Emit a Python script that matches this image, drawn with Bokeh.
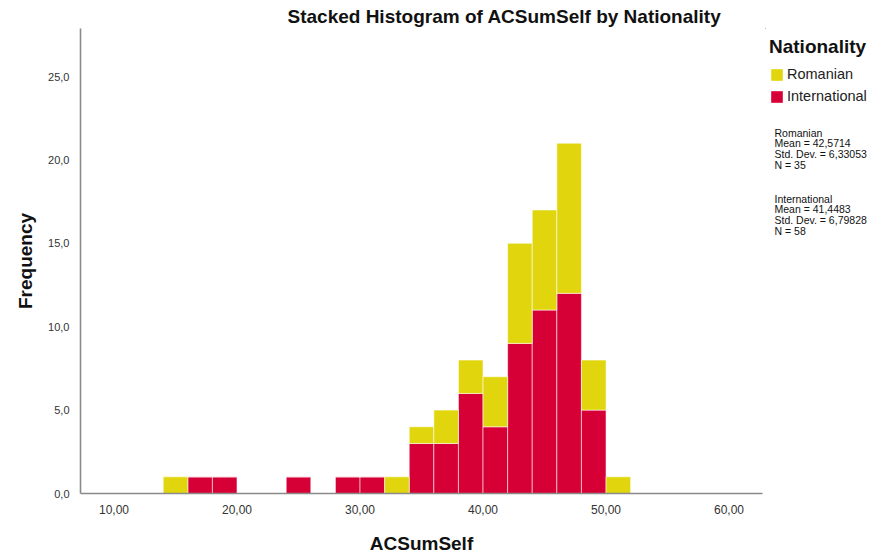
from bokeh.plotting import figure
from bokeh.models import ColumnDataSource, Range1d, Label, Legend, LegendItem, FixedTicker
from bokeh.layouts import row
from bokeh.embed import file_html
from bokeh.resources import INLINE

# ---- data ----
bin_starts = [14, 16, 18, 20, 22, 24, 26, 28, 30, 32, 34, 36, 38, 40, 42, 44, 46, 48, 50]
international = [0, 1, 1, 0, 0, 1, 0, 1, 1, 0, 3, 3, 6, 4, 9, 11, 12, 5, 0]
romanian = [1, 0, 0, 0, 0, 0, 0, 0, 0, 1, 1, 2, 2, 3, 6, 6, 9, 3, 1]
bin_width = 2
x_ticks = [10, 20, 30, 40, 50, 60]
y_ticks = [0, 5, 10, 15, 20, 25]
series_names = ["Romanian", "International"]
stats_romanian = ["Romanian", "Mean = 42,5714", "Std. Dev. = 6,33053", "N = 35"]
stats_international = ["International", "Mean = 41,4483", "Std. Dev. = 6,79828", "N = 58"]

YELLOW = "#E1D60E"
RED = "#D70036"
FONT = "Liberation Sans"

mids = [s + bin_width / 2 for s in bin_starts]
source = ColumnDataSource(dict(mid=mids, International=international, Romanian=romanian))

H = 559
W1 = 765
W2 = 891 - W1
FRAME_TOP, FRAME_BOTTOM = 28, 493

p = figure(width=W1, height=H, output_backend="svg", toolbar_location=None,
           x_range=Range1d(7.276, 62.72), y_range=Range1d(0, 27.88),
           min_border_left=80, min_border_top=FRAME_TOP, min_border_right=W1 - 762,
           min_border_bottom=H - FRAME_BOTTOM)
p.outline_line_color = None
p.grid.visible = False
p.background_fill_color = "white"
p.border_fill_color = "white"

rs = p.vbar_stack(["International", "Romanian"], x="mid", width=bin_width, source=source,
                  fill_color=[RED, YELLOW], line_color="white", line_alpha=0.55, line_width=1)

for ax in (p.xaxis[0], p.yaxis[0]):
    ax.axis_line_color = "#8a8a8a"
    ax.axis_line_width = 1.6
    ax.major_tick_line_color = None
    ax.minor_tick_line_color = None
    ax.major_label_text_font = FONT
    ax.major_label_text_color = "#333333"
    ax.axis_label_text_font = FONT
    ax.axis_label_text_font_style = "bold"
    ax.axis_label_text_font_size = "19px"
    ax.axis_label_text_color = "#111111"

p.xaxis.ticker = FixedTicker(ticks=x_ticks)
p.xaxis.major_label_overrides = {t: f"{t:.2f}".replace(".", ",") for t in x_ticks}
p.xaxis.major_label_text_font_size = "12px"
p.xaxis.major_label_standoff = 5
p.xaxis.axis_label = "ACSumSelf"
p.xaxis.axis_label_standoff = 16

p.yaxis.ticker = FixedTicker(ticks=y_ticks)
p.yaxis.major_label_overrides = {t: f"{t:.1f}".replace(".", ",") for t in y_ticks}
p.yaxis.major_label_text_font_size = "11px"
p.yaxis.major_label_standoff = 5
p.yaxis.axis_label = "Frequency"
p.yaxis.axis_label_standoff = 9

p.title.text = "Stacked Histogram of ACSumSelf by Nationality"
p.title.text_font = FONT
p.title.text_font_style = "bold"
p.title.text_font_size = "19px"
p.title.text_color = "#111111"
p.title.align = "left"
p.title.offset = 207
p.title.standoff = 3

# ---- side panel: legend and statistics (data units = picture pixels) ----
side = figure(width=W2, height=H, output_backend="svg", toolbar_location=None,
              x_range=Range1d(W1, W1 + W2), y_range=Range1d(FRAME_BOTTOM, FRAME_TOP),
              x_axis_location=None, y_axis_location=None,
              min_border_left=0, min_border_right=0, min_border_top=FRAME_TOP,
              min_border_bottom=H - FRAME_BOTTOM)
side.outline_line_color = None
side.grid.visible = False

# legend proxies: same series, but outside this panel's ranges (so only their swatches show)
proxy_r = side.vbar(x="mid", top="Romanian", width=bin_width, source=source,
                    fill_color=YELLOW, line_color="white", line_alpha=0.4)
proxy_i = side.vbar(x="mid", top="International", width=bin_width, source=source,
                    fill_color=RED, line_color="white", line_alpha=0.4)

legend = Legend(items=[LegendItem(label=series_names[0], renderers=[proxy_r]),
                       LegendItem(label=series_names[1], renderers=[proxy_i])],
                location=(769 - W1, FRAME_BOTTOM - 104), title="Nationality",
                title_text_font=FONT, title_text_font_style="bold", title_text_font_size="19px",
                title_text_color="#111111", title_standoff=8,
                label_text_font=FONT, label_text_font_size="14.5px", label_text_color="#222222",
                glyph_width=15, glyph_height=15, label_height=15, label_standoff=3,
                spacing=6, padding=0, margin=0, border_line_color=None,
                background_fill_alpha=0)
side.add_layout(legend, "center")

for lines, top in ((stats_romanian, 126), (stats_international, 192)):
    side.add_layout(Label(x=774, y=top, text="\n".join(lines), text_font=FONT,
                          text_font_size="10.5px", text_color="#111111", text_align="left",
                          text_baseline="top", text_line_height=0.9))

layout = row(p, side, spacing=0)
open("out.html", "w").write(file_html(layout, INLINE))
